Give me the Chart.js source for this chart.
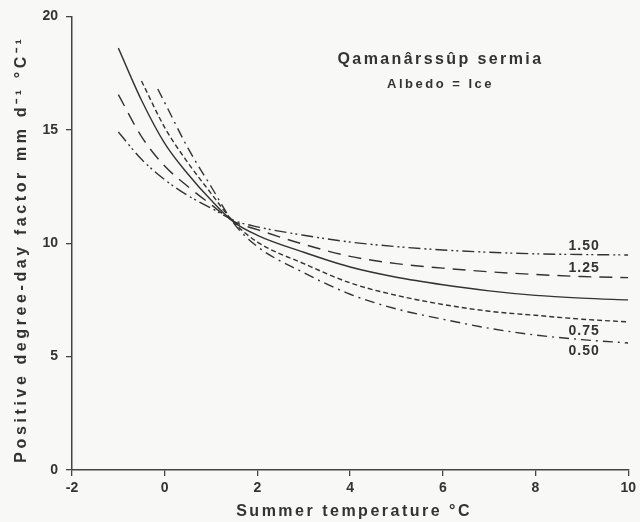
<!DOCTYPE html>
<html>
<head>
<meta charset="utf-8">
<script src="https://cdn.jsdelivr.net/npm/chart.js@4.4.1/dist/chart.umd.min.js"></script>
<style>
  html, body { margin: 0; padding: 0; background: #f8f8f6; }
  #wrap { width: 640px; height: 522px; }
</style>
</head>
<body>
<div id="wrap"><canvas id="grafico"></canvas></div>
<script>
// temperaturas (eixo x) e fatores de grau-dia (eixo y)
const temps = [-1, -0.5, 0, 0.5, 1, 1.5, 2, 3, 4, 5, 6, 7, 8, 9, 10];
const temps075 = [-0.5, 0, 0.5, 1, 1.5, 2, 3, 4, 5, 6, 7, 8, 9, 10];
const temps050 = [-0.15, 0, 0.5, 1, 1.5, 2, 3, 4, 5, 6, 7, 8, 9, 10];

const albedo150 = [14.9, 13.7, 12.8, 12.1, 11.55, 11.0, 10.72, 10.35, 10.05, 9.85, 9.7, 9.6, 9.53, 9.5, 9.48];
const albedo125 = [16.55, 14.7, 13.4, 12.5, 11.7, 10.95, 10.6, 9.95, 9.42, 9.1, 8.9, 8.74, 8.62, 8.53, 8.48];
const albedo100 = [18.6, 16.3, 14.4, 13.05, 11.9, 10.92, 10.35, 9.6, 8.95, 8.5, 8.17, 7.9, 7.7, 7.58, 7.5];
const albedo075 = [17.15, 15.1, 13.55, 12.2, 10.9, 10.05, 9.1, 8.25, 7.7, 7.3, 7.0, 6.82, 6.65, 6.53];
const albedo050 = [16.8, 16.2, 14.2, 12.5, 10.85, 9.85, 8.7, 7.75, 7.1, 6.65, 6.25, 5.95, 5.75, 5.6];

const rotulos = ['1.50', '1.25', '', '0.75', '0.50'];
const xTicks = [-2, 0, 2, 4, 6, 8, 10];
const yTicks = [0, 5, 10, 15, 20];

const cor = '#333333';
const fonte = '"Liberation Sans", Arial, sans-serif';

function pontos(xs, ys) {
    return xs.map((x, i) => ({ x: x, y: ys[i] }));
}

function serie(label, xs, ys, dash) {
    return {
        label: label,
        data: pontos(xs, ys),
        borderColor: cor,
        borderWidth: 1.4,
        borderDash: dash,
        pointRadius: 0,
        fill: false,
        cubicInterpolationMode: 'monotone'
    };
}

const textos = {
    id: 'textos',
    afterDraw(chart) {
        const ctx = chart.ctx;
        const xs = chart.scales.x;
        const ys = chart.scales.y;
        const area = chart.chartArea;
        ctx.save();
        ctx.fillStyle = cor;
        ctx.textAlign = 'center';
        ctx.textBaseline = 'middle';

        // titulo do eixo x
        ctx.letterSpacing = '2.5px';
        ctx.font = 'bold 16px ' + fonte;
        ctx.fillText('Summer temperature °C', (area.left + area.right) / 2 + 4, 512);

        // titulo do eixo y
        ctx.save();
        ctx.letterSpacing = '3.6px';
        ctx.translate(22, (area.top + area.bottom) / 2 + 6);
        ctx.rotate(-Math.PI / 2);
        ctx.fillText('Positive degree-day factor mm d⁻¹ °C⁻¹', 0, 0);
        ctx.restore();

        // nome da geleira
        ctx.letterSpacing = '2.4px';
        ctx.font = 'bold 16px ' + fonte;
        ctx.fillText('Qamanârssûp sermia', xs.getPixelForValue(5.95), ys.getPixelForValue(18.1));
        ctx.letterSpacing = '2.5px';
        ctx.font = 'bold 13px ' + fonte;
        ctx.fillText('Albedo = Ice', xs.getPixelForValue(5.95), ys.getPixelForValue(17.0));

        // rotulos das curvas
        ctx.letterSpacing = '1px';
        ctx.font = 'bold 14px ' + fonte;
        chart.data.datasets.forEach((ds, i) => {
            if (!rotulos[i]) return;
            const p = ds.data.find(d => d.x === 9);
            const acima = i < 2;
            const px = xs.getPixelForValue(9.05);
            const py = ys.getPixelForValue(p.y) + (acima ? -8 : 12);
            ctx.fillText(rotulos[i], px, py);
        });
        ctx.restore();
    }
};

const fundo = {
    id: 'fundo',
    beforeDraw(chart) {
        const ctx = chart.ctx;
        ctx.save();
        ctx.fillStyle = '#f8f8f6';
        ctx.fillRect(0, 0, chart.width, chart.height);
        ctx.restore();
    }
};

new Chart(document.getElementById('grafico'), {
    type: 'line',
    data: {
        datasets: [
            serie('1.50', temps, albedo150, [12, 4, 2, 3, 2, 4]),
            serie('1.25', temps, albedo125, [13, 8]),
            serie('1.00', temps, albedo100, []),
            serie('0.75', temps075, albedo075, [5, 3]),
            serie('0.50', temps050, albedo050, [10, 5, 2, 5])
        ]
    },
    options: {
        responsive: true,
        maintainAspectRatio: false,
        animation: false,
        layout: { padding: { top: 14, right: 0, left: 0, bottom: 0 } },
        plugins: {
            legend: { display: false },
            tooltip: { enabled: false }
        },
        scales: {
            x: {
                type: 'linear',
                min: -2,
                max: 10,
                afterBuildTicks: (s) => { s.ticks = xTicks.map(v => ({ value: v })); },
                afterFit: (s) => { s.height = 52; },
                border: { display: true, color: '#444', width: 1.5 },
                grid: { drawOnChartArea: false, drawTicks: true, tickLength: 6, color: '#444', lineWidth: 1.3 },
                ticks: { color: cor, font: { family: fonte, size: 14, weight: 'bold' }, padding: 4, maxRotation: 0 }
            },
            y: {
                min: 0,
                max: 20,
                afterBuildTicks: (s) => { s.ticks = yTicks.map(v => ({ value: v })); },
                afterFit: (s) => { s.width = 72; },
                border: { display: true, color: '#444', width: 1.5 },
                grid: { drawOnChartArea: false, drawTicks: true, tickLength: 6, color: '#444', lineWidth: 1.3 },
                ticks: { color: cor, font: { family: fonte, size: 14, weight: 'bold' }, padding: 8 }
            }
        }
    },
    plugins: [fundo, textos]
});
</script>
</body>
</html>
